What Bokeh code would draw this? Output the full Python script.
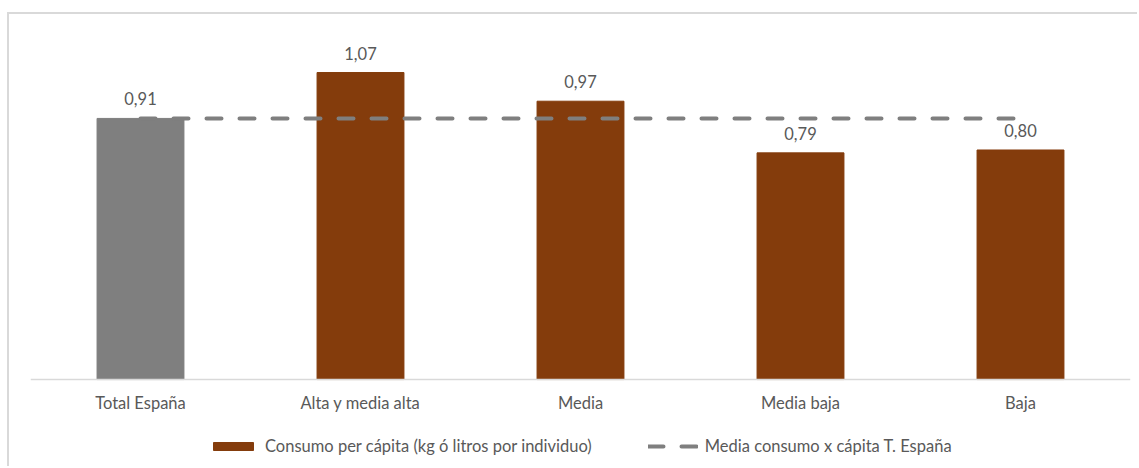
from bokeh.plotting import figure
from bokeh.models import ColumnDataSource, LabelSet, Legend, LegendItem, FactorRange, Range1d
from bokeh.core.properties import value
from bokeh.embed import file_html
from bokeh.resources import INLINE

categories = ["Total España", "Alta y media alta", "Media", "Media baja", "Baja"]
consumo = [0.91, 1.07, 0.97, 0.79, 0.80]
media_espana = [0.91, 0.91, 0.91, 0.91, 0.91]
bar_colors = ["#7F7F7F", "#843C0C", "#843C0C", "#843C0C", "#843C0C"]
labels = [f"{v:.2f}".replace(".", ",") for v in consumo]

FONT = "Lato"
FS = "16.5px"
TXT = "#595959"

src = ColumnDataSource(dict(cat=categories, val=consumo, color=bar_colors, lab=labels, media=media_espana))

p = figure(x_range=FactorRange(*categories, range_padding=0), y_range=Range1d(-0.303, 1.199),
           width=1130, height=454, output_backend="svg", toolbar_location=None,
           min_border_left=21, min_border_right=9, min_border_top=21, min_border_bottom=2)
p.styles = {"border-top": "2px solid #D9D9D9", "border-left": "2px solid #D9D9D9",
            "margin-top": "12px", "margin-left": "7px"}
p.outline_line_color = None
p.xgrid.grid_line_color = None
p.ygrid.grid_line_color = None
p.yaxis.visible = False

bars = p.vbar(x="cat", top="val", width=0.395, color="color", source=src)
line = p.line(x="cat", y="media", source=src, line_color="#7F7F7F", line_width=4,
              line_dash="15 18", line_cap="round")

p.add_layout(LabelSet(x="cat", y="val", text="lab", source=src, text_align="center",
                      text_baseline="alphabetic", y_offset=13, text_font=value(FONT),
                      text_font_size=FS, text_color=TXT))

ax = p.xaxis[0]
ax.fixed_location = 0
ax.axis_line_color = "#D9D9D9"
ax.axis_line_width = 1.5
ax.major_tick_line_color = None
ax.minor_tick_line_color = None
ax.major_label_text_font = FONT
ax.major_label_text_font_size = FS
ax.major_label_text_color = TXT
ax.major_label_standoff = 7

legend = Legend(items=[
    LegendItem(label="Consumo per cápita (kg ó litros por individuo)", renderers=[bars], index=1),
    LegendItem(label="Media consumo x cápita T. España", renderers=[line]),
], orientation="horizontal", glyph_width=50, glyph_height=10, location=(178, 10),
    label_text_font=FONT, label_text_font_size=FS, label_text_color=TXT,
    label_standoff=7, spacing=56, border_line_color=None, background_fill_alpha=0,
    padding=0, margin=0)
p.add_layout(legend, "center")

open("out.html", "w").write(file_html(p, INLINE))
